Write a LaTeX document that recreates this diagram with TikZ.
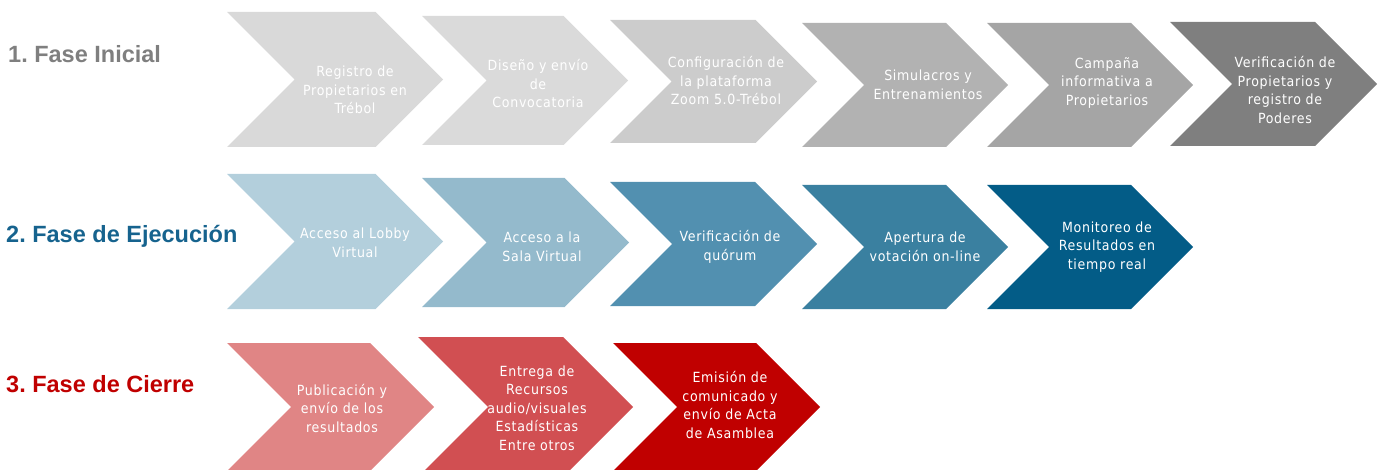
\documentclass[tikz,border=0pt]{standalone}
\usepackage{fontspec}
\setmainfont{Liberation Sans}
\newfontfamily\chevfont{DejaVu Sans Condensed}[LetterSpace=5]
\definecolor{g1}{HTML}{D9D9D9}
\definecolor{g2}{HTML}{DADADA}
\definecolor{g3}{HTML}{CCCCCC}
\definecolor{g4}{HTML}{B2B2B2}
\definecolor{g5}{HTML}{A5A5A5}
\definecolor{g6}{HTML}{7F7F7F}
\definecolor{b1}{HTML}{B3CFDC}
\definecolor{b2}{HTML}{94BACC}
\definecolor{b3}{HTML}{5290B0}
\definecolor{b4}{HTML}{3A80A0}
\definecolor{b5}{HTML}{035C87}
\definecolor{r1}{HTML}{E08585}
\definecolor{r2}{HTML}{D14F52}
\definecolor{r3}{HTML}{C00000}
\definecolor{lab1}{HTML}{7F7F7F}
\definecolor{lab2}{HTML}{16638E}
\definecolor{lab3}{HTML}{C00000}
\tikzset{
  chevtext/.style={font=\chevfont\fontsize{14}{18.5}\selectfont, text=white, align=center, inner sep=0pt},
  phase/.style={font=\bfseries\fontsize{23.5}{26}\selectfont, anchor=base west, inner sep=0pt}
}
% #1 name, #2 left, #3 top, #4 bottom, #5 tip, #6 colour, #7 text x, #8 text y, #9 text
\newcommand\chevshape[9]{%
  \pgfmathsetmacro\chh{(#4-#3)/2}%
  \fill[#6] (#2,#3) -- (#5-\chh,#3) -- (#5,#3+\chh) -- (#5-\chh,#4) -- (#2,#4) -- (#2+\chh,#3+\chh) -- cycle;
  \node[chevtext] (#1) at (#7,#8) {#9};%
}
\begin{document}
\begin{tikzpicture}[x=1pt,y=-1pt]
\useasboundingbox (0,0) rectangle (1381,470);
% phase labels
\node[phase, text=lab1] (p1) at (8,63) {1.\ Fase Inicial};
\node[phase, text=lab2] (p2) at (6,243) {2.\ Fase de Ejecución};
\node[phase, text=lab3] (p3) at (6,392) {3.\ Fase de Cierre};
% row 1
\chevshape{c11}{227}{12}{147}{443}{g1}{355}{90}{Registro de\\Propietarios en\\Trébol}
\chevshape{c12}{422}{16}{145}{628}{g2}{538}{84}{Diseño y envío\\de\\Convocatoria}
\chevshape{c13}{610}{20}{143}{817}{g3}{726}{81}{Configuración de\\la plataforma\\Zoom 5.0-Trébol}
\chevshape{c14}{802}{23}{147}{1008}{g4}{928}{85}{Simulacros y\\Entrenamientos}
\chevshape{c15}{987}{23}{147}{1193}{g5}{1107}{83}{Campaña\\informativa a\\Propietarios}
\chevshape{c16}{1170}{22}{146}{1377}{g6}{1285}{90}{Verificación de\\Propietarios y\\registro de\\Poderes}
% row 2
\chevshape{c21}{227}{174}{309}{443}{b1}{355}{243}{Acceso al Lobby\\Virtual}
\chevshape{c22}{422}{178}{307}{629}{b2}{542}{247}{Acceso a la\\Sala Virtual}
\chevshape{c23}{610}{182}{306}{817}{b3}{730}{247}{Verificación de\\quórum}
\chevshape{c24}{802}{185}{309}{1008}{b4}{925}{247}{Apertura de\\votación on-line}
\chevshape{c25}{987}{185}{309}{1193}{b5}{1107}{247}{Monitoreo de\\Resultados en\\tiempo real}
% row 3
\chevshape{c31}{227}{343}{471}{434}{r1}{342}{408}{Publicación y\\envío de los\\resultados}
\chevshape{c32}{418}{337}{477}{633}{r2}{537}{408}{Entrega de\\Recursos\\audio/visuales\\Estadísticas\\Entre otros}
\chevshape{c33}{613}{343}{471}{820}{r3}{730}{405}{Emisión de\\comunicado y\\envío de Acta\\de Asamblea}
\end{tikzpicture}
\end{document}
